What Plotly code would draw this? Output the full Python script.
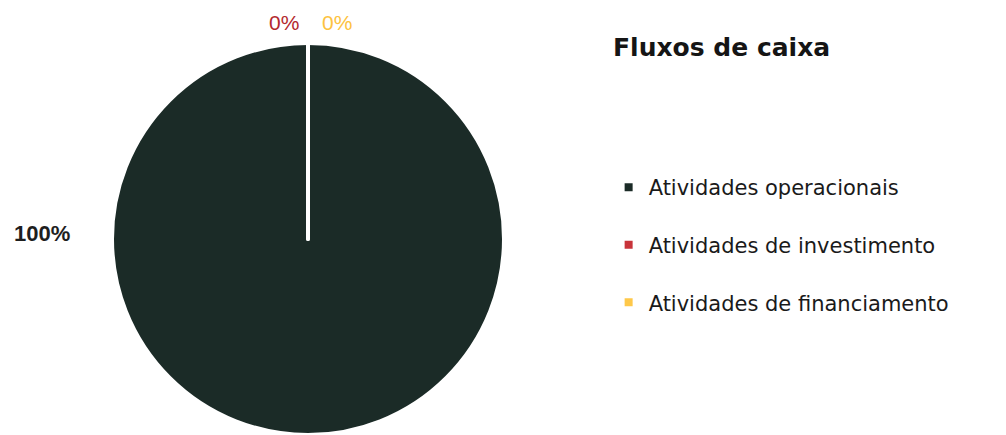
import plotly.graph_objects as go

# Data
categories = ["Atividades operacionais", "Atividades de investimento", "Atividades de financiamento"]
values = [100, 0, 0]
colors = ["#1b2b27", "#c8343a", "#fec84a"]
label_colors = ["#1e1e1e", "#b3282e", "#fdc240"]
title_text = "Fluxos de caixa"

W, H = 1006, 435
total = sum(values)
pcts = [f"{round(v / total * 100)}%" for v in values]

fig = go.Figure()
fig.add_trace(go.Pie(
    labels=[c + "<br> " for c in categories],
    values=values,
    sort=False,
    direction="counterclockwise",
    rotation=0,
    marker=dict(colors=colors, line=dict(color="white", width=4)),
    textinfo="none",
    hoverinfo="none",
    domain=dict(x=[111 / W, 505 / W], y=[0, 1 - 43 / H]),
))

# percentage labels
label_pos = [(42, 234, 22, True), (284, 22, 21, False), (337, 22, 21, False)]
for (px, py, sz, bold), txt, col in zip(label_pos, pcts, label_colors):
    fig.add_annotation(
        x=px / W, y=1 - py / H, xref="paper", yref="paper",
        text=f"<b>{txt}</b>" if bold else txt,
        showarrow=False, xanchor="center", yanchor="middle",
        font=dict(family="Arial", size=sz, color=col),
    )

fig.update_layout(
    width=W, height=H,
    margin=dict(l=0, r=0, t=0, b=0),
    paper_bgcolor="white", plot_bgcolor="white",
    title=dict(text=f"<b>{title_text}</b>", x=613 / W, xanchor="left", y=1 - 47 / H, yanchor="middle",
               font=dict(family="DejaVu Sans", size=25, color="#151515")),
    legend=dict(x=0.605, y=1 - 167 / H, xanchor="left", yanchor="top", valign="top",
                font=dict(family="DejaVu Sans", size=21, color="#1a1a1a"), bgcolor="rgba(0,0,0,0)"),
    showlegend=True,
)

fig.write_html("out.html")
